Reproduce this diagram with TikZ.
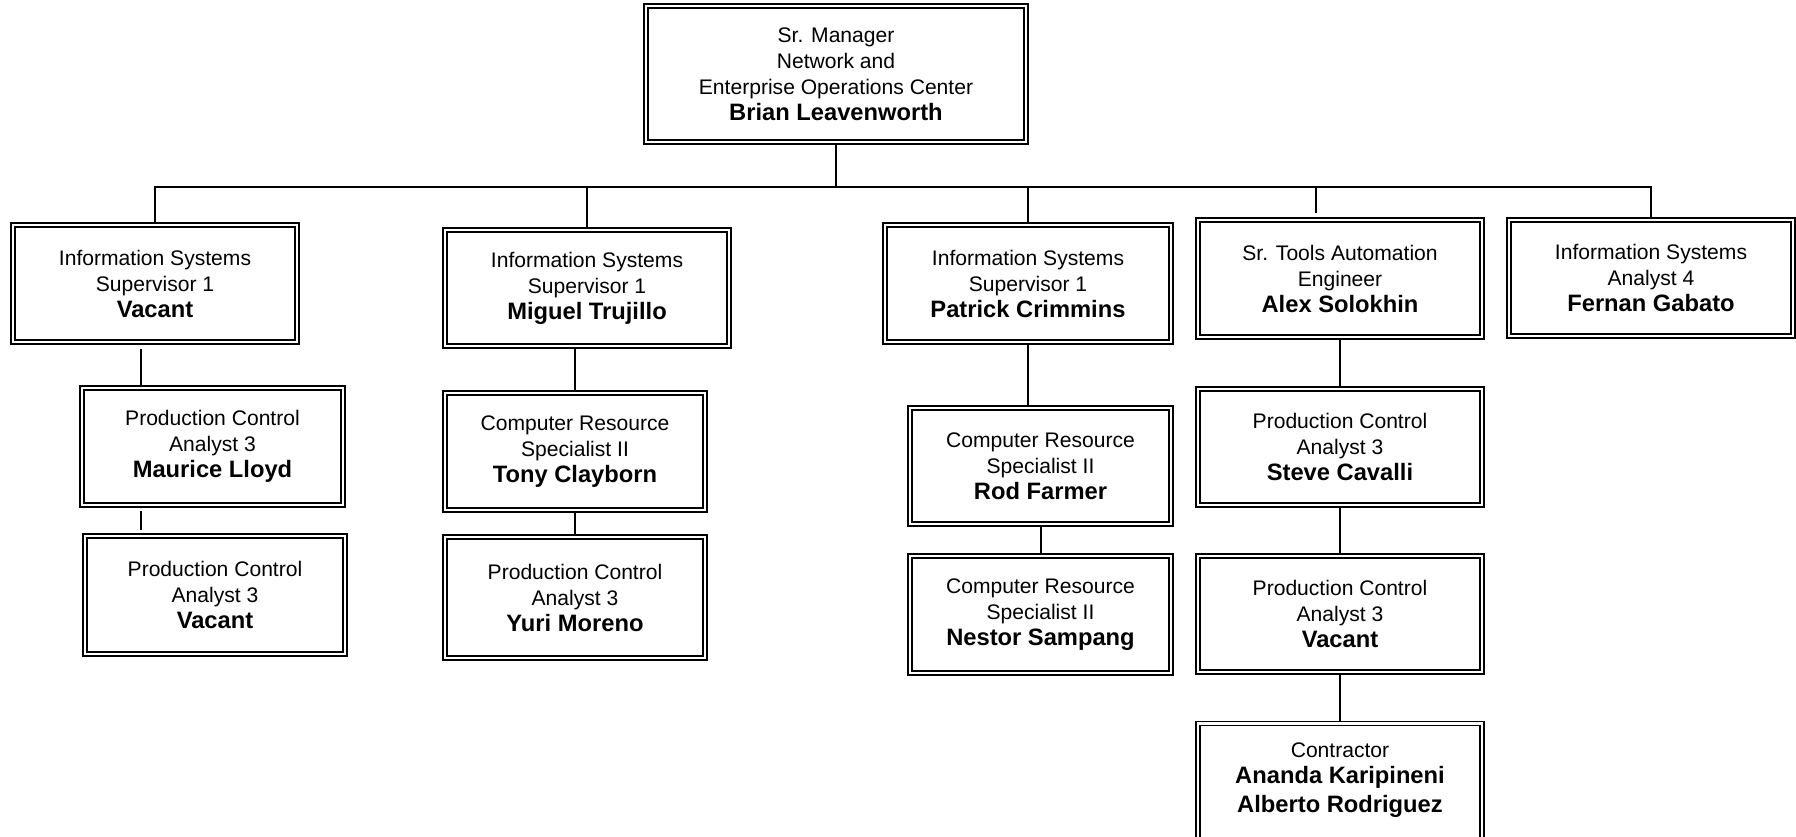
\documentclass[tikz,border=0pt]{standalone}
\usepackage{fontspec}
\setmainfont{Liberation Sans}
\usetikzlibrary{backgrounds}
\tikzset{
post/.style={draw, double, double distance=1.6pt, line width=0.7pt,
  align=center, inner sep=0pt, minimum width=5.68cm, minimum height=2.34cm,
  font=\fontsize{12}{14.8}\selectfont},
link/.style={line width=0.8pt},
}
\newcommand{\holder}[1]{{\fontsize{13.5}{15}\selectfont\bfseries #1}}

\begin{document}
\begin{tikzpicture}[x=0.02cm, y=-0.02cm]
        \useasboundingbox (0,0) rectangle (1796,836);
        \clip (0,0) rectangle (1796,836);

        \node [post, minimum width=7.6cm, minimum height=2.72cm] (gm) at (836,74)
        {
            Sr. Manager\\
            Network and\\
            Enterprise Operations Center\\
            \holder{Brian Leavenworth}
        };

        % first column
        \node [post] (sup1) at (155,283.5)
            {Information Systems\\ Supervisor 1\\ \holder{Vacant}};
        \node [post, minimum width=5.22cm] (pc1) at (212.5,446.5)
            {Production Control\\ Analyst 3\\ \holder{Maurice Lloyd}};
        \node [post, minimum width=5.2cm, minimum height=2.36cm] (pc2) at (215,595)
            {Production Control\\ Analyst 3\\ \holder{Vacant}};

        % second column
        \node [post, minimum height=2.32cm] (sup2) at (587,288)
            {Information Systems\\ Supervisor 1\\ \holder{Miguel Trujillo}};
        \node [post, minimum width=5.2cm] (crs1) at (575,451.5)
            {Computer Resource\\ Specialist II\\ \holder{Tony Clayborn}};
        \node [post, minimum width=5.2cm, minimum height=2.42cm] (pc3) at (575,597.5)
            {Production Control\\ Analyst 3\\ \holder{Yuri Moreno}};

        % third column
        \node [post, minimum width=5.72cm] (sup3) at (1028,283.5)
            {Information Systems\\ Supervisor 1\\ \holder{Patrick Crimmins}};
        \node [post, minimum width=5.22cm, minimum height=2.32cm] (crs2) at (1040.5,466)
            {Computer Resource\\ Specialist II\\ \holder{Rod Farmer}};
        \node [post, minimum width=5.22cm] (crs3) at (1040.5,614.5)
            {Computer Resource\\ Specialist II\\ \holder{Nestor Sampang}};

        % fourth column
        \node [post] (eng) at (1340,278.5)
            {Sr. Tools Automation\\ Engineer\\ \holder{Alex Solokhin}};
        \node [post, minimum height=2.32cm] (pc4) at (1340,447)
            {Production Control\\ Analyst 3\\ \holder{Steve Cavalli}};
        \node [post, minimum height=2.32cm] (pc5) at (1340,614)
            {Production Control\\ Analyst 3\\ \holder{Vacant}};
        \node [post, minimum height=0pt, inner ysep=11pt, text depth=1.8cm, anchor=north] (con) at (1340,723)
            {Contractor\\ \holder{Ananda Karipineni}\\[1.8pt] \holder{Alberto Rodriguez}};

        % fifth column
        \node [post, minimum height=2.32cm] (anl) at (1651,278)
            {Information Systems\\ Analyst 4\\ \holder{Fernan Gabato}};

        \coordinate (bus) at (0,187);
        \coordinate (c1) at (141,0);
        \coordinate (c2) at (575,0);
        \coordinate (c3) at (1041,0);
        \coordinate (c4) at (1316,0);

        \begin{scope}[on background layer]
        \draw[link] (gm.south) -- (gm.south |- bus);
        \draw[link] (sup1.north) -- (sup1.north |- bus) -- (anl.north |- bus) -- (anl.north);
        \draw[link] (sup2.north |- bus) -- (sup2.north);
        \draw[link] (sup3.north |- bus) -- (sup3.north);
        \draw[link, shorten >=3.4pt] (bus -| c4) -- (eng.north -| c4);
        \draw[link, shorten <=3.4pt] (sup1.south -| c1) -- (pc1.north -| c1);
        \draw[link, shorten <=2.8pt, shorten >=2.8pt] (pc1.south -| c1) -- (pc2.north -| c1);
        \draw[link] (sup2.south -| c2) -- (crs1.north -| c2);
        \draw[link] (crs1.south -| c2) -- (pc3.north -| c2);
        \draw[link] (sup3.south) -- (crs2.north -| sup3.south);
        \draw[link] (crs2.south -| c3) -- (crs3.north -| c3);
        \draw[link] (eng.south) -- (pc4.north);
        \draw[link] (pc4.south) -- (pc5.north);
        \draw[link] (pc5.south) -- (con.north);
        \end{scope}
    \end{tikzpicture}
\end{document}
